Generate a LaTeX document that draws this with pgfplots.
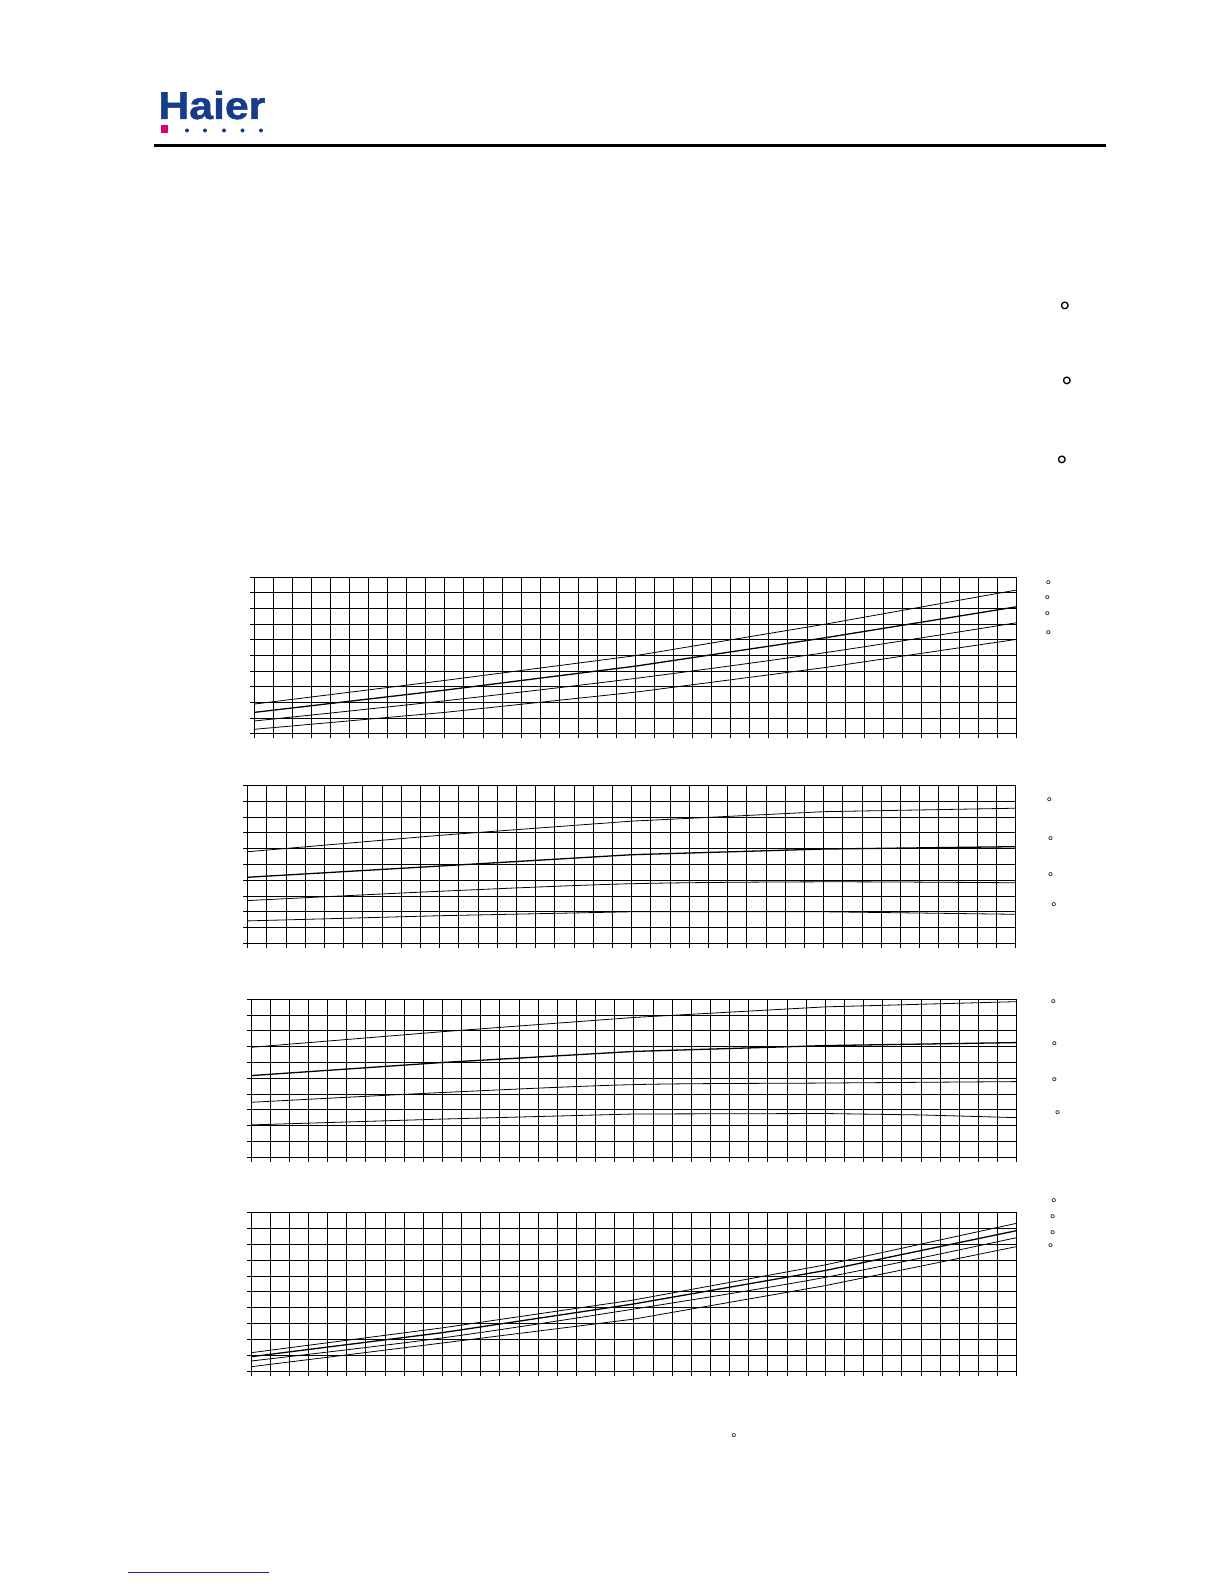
\documentclass[border=0pt]{standalone}
\usepackage{pgfplots}
\pgfplotsset{compat=1.18}
\usepackage{fontspec}
\setmainfont{Liberation Sans}
\newfontfamily\logofont[FakeBold=1.2]{Liberation Sans Bold}
\definecolor{haierblue}{RGB}{22,60,140}
\definecolor{haierpink}{RGB}{222,0,112}
\definecolor{linkblue}{RGB}{30,30,150}

% one grid panel: 40 x 10 cells, no labels
\pgfplotsset{
  gridpanel/.style={
    scale only axis,
    xmin=0, xmax=40, ymin=0, ymax=10,
    xtick={0,...,40}, ytick={0,...,10},
    xticklabels={}, yticklabels={},
    grid=major,
    major grid style={black, line width=0.5pt},
    axis line style={black, line width=0.5pt},
    tick style={black, line width=0.5pt},
    tick align=outside, major tick length=2.2pt,
    xtick pos=bottom, ytick pos=left,
    cycle list={{black, line width=0.65pt, smooth, mark=none}},
  }
}

\begin{document}
\begin{tikzpicture}[x=0.50187pt, y=0.50187pt]
\path[use as bounding box] (0,0) rectangle (1224,1584);

% header
\node[anchor=base west, inner sep=0, text=haierblue, xscale=1.1]
  at (158,1584-119) {\fontsize{19.5}{19.5}\selectfont\logofont Haier};
\fill[haierpink] (160.5,1584-125.5) rectangle (168.3,1584-133.5);
\foreach \x in {187,205,224,242.5,261}
  \fill[haierblue] (\x,1584-130.5) circle (2);
\draw[line width=1.8pt] (153.5,1584-145.5) -- (1106,1584-145.5);

% footer link line
\draw[linkblue, line width=1pt] (128,1584-1572.5) -- (269,1584-1572.5);

% degree signs (large)
\foreach \x/\y in {1065/304.3,1067/379.3,1062/458.3}
  \node[anchor=base, inner sep=0] at (\x,1584-\y-17) {\fontsize{14}{14}\selectfont °};
% degree signs (small)
\foreach \x/\y in {1048.3/581.7,1047.3/597.3,1047.3/612.7,1048.3/631.7,
                   1049.3/799,1050.7/837.7,1050.7/874,1054/904.3,
                   1053.3/1000.7,1054.3/1043.3,1054.3/1079.3,1057.7/1112.3,
                   1054/1200,1052.7/1215.7,1052.7/1231.7,1050.7/1245,
                   734/1435}
  \node[anchor=base, inner sep=0] at (\x,1584-\y-8.4) {\fontsize{7}{7}\selectfont °};

% panel 1
\begin{axis}[gridpanel, at={(127.63pt,426.59pt)}, anchor=south west,
  width=382.6pt, height=78.64pt]
\addplot coordinates {(0,1.91) (10,3.42) (20,5.00) (30,7.02) (40,9.19)};
\addplot coordinates {(0,1.38) (10,2.80) (20,4.33) (30,6.15) (40,8.12)};
\addplot coordinates {(0,0.83) (10,2.12) (20,3.55) (30,5.20) (40,7.10)};
\addplot coordinates {(0,0.30) (10,1.38) (20,2.67) (30,4.25) (40,6.04)};
\end{axis}

% panel 2
\begin{axis}[gridpanel, at={(124.31pt,321.55pt)}, anchor=south west,
  width=385.4pt, height=79.1pt]
\addplot coordinates {(0,5.81) (10,6.85) (20,7.75) (30,8.35) (40,8.57)};
\addplot coordinates {(0,4.19) (10,4.90) (20,5.62) (30,5.98) (40,6.13)};
\addplot coordinates {(0,2.71) (10,3.30) (20,3.78) (30,3.90) (40,3.84)};
\addplot coordinates {(0,1.42) (10,1.75) (20,2.00) (30,2.00) (40,1.84)};
\end{axis}

% panel 3
\begin{axis}[gridpanel, at={(125.97pt,214.15pt)}, anchor=south west,
  width=384.3pt, height=79.3pt]
\addplot coordinates {(0,6.96) (10,7.95) (20,8.85) (30,9.52) (40,9.85)};
\addplot coordinates {(0,5.17) (10,6.00) (20,6.70) (30,7.07) (40,7.26)};
\addplot coordinates {(0,3.48) (10,4.10) (20,4.60) (30,4.70) (40,4.79)};
\addplot coordinates {(0,2.05) (10,2.42) (20,2.74) (30,2.77) (35,2.68) (40,2.51)};
\end{axis}

% panel 4
\begin{axis}[gridpanel, at={(125.97pt,106.55pt)}, anchor=south west,
  width=384.3pt, height=80.0pt]
\addplot coordinates {(0,1.19) (10,2.75) (20,4.50) (30,6.70) (40,9.31)};
\addplot coordinates {(0,0.94) (10,2.45) (20,4.25) (30,6.35) (40,8.85)};
\addplot coordinates {(0,0.67) (10,2.12) (20,3.93) (30,5.92) (40,8.41)};
\addplot coordinates {(0,0.31) (10,1.80) (20,3.30) (30,5.40) (40,7.85)};
\end{axis}
\end{tikzpicture}
\end{document}
